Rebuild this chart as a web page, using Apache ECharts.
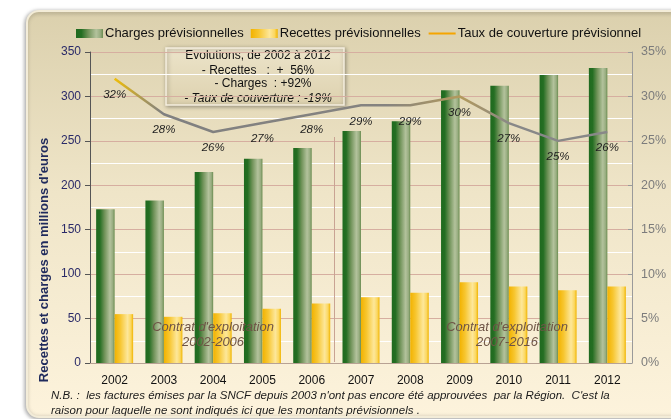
<!DOCTYPE html>
<html>
<head>
<meta charset="utf-8">
<script src="https://cdn.jsdelivr.net/npm/echarts@6/dist/echarts.min.js"></script>
<style>
  html, body { margin: 0; padding: 0; background: #ffffff; }
  #chart { width: 671px; height: 419px; }
</style>
</head>
<body>
<div id="chart"></div>
<script>
// Forecast figures for the regional rail operating contract, 2002-2012
const years = ['2002', '2003', '2004', '2005', '2006', '2007', '2008', '2009', '2010', '2011', '2012'];
const charges = [173, 183, 215, 230, 242, 261, 272, 307, 312, 324, 332];   // M€
const recettes = [55, 52, 56, 61, 67, 74, 79, 91, 86, 82, 86];             // M€
const taux = [32, 28, 26, 27, 28, 29, 29, 30, 27, 25, 26];                 // %

const leftTicks = { min: 0, max: 350, interval: 50 };
const rightTicks = { min: 0, max: 35, interval: 5 };

const FONT = 'Liberation Sans, Arial, sans-serif';
const G = echarts.graphic;

const chart = echarts.init(document.getElementById('chart'), null, { renderer: 'canvas' });

const greenFill = new G.LinearGradient(0, 0, 1, 0, [
  { offset: 0, color: '#1f6a1f' },
  { offset: 0.2, color: '#246e22' },
  { offset: 0.45, color: '#6f9258' },
  { offset: 0.75, color: '#b3c29c' },
  { offset: 0.9, color: '#98ad80' },
  { offset: 1, color: '#6a8c50' }
]);
const yellowFill = new G.LinearGradient(0, 0, 1, 0, [
  { offset: 0, color: '#f2b200' },
  { offset: 0.3, color: '#f7c630' },
  { offset: 0.7, color: '#fde79a' },
  { offset: 0.88, color: '#fbd760' },
  { offset: 1, color: '#f0b400' }
]);
const lineStroke = new G.LinearGradient(0, 0, 1, 0, [
  { offset: 0, color: '#f5c000' },
  { offset: 0.05, color: '#b8a048' },
  { offset: 0.1, color: '#808080' },
  { offset: 0.55, color: '#858380' },
  { offset: 0.7, color: '#b39a5c' },
  { offset: 0.8, color: '#888888' },
  { offset: 1, color: '#888888' }
]);

const option = {
  animation: false,
  textStyle: { fontFamily: FONT },
  graphic: [
    // beige rounded frame behind everything
    {
      type: 'rect', z: -10, silent: true,
      shape: { x: 27, y: 11, width: 680, height: 406, r: 12 },
      style: {
        fill: new G.LinearGradient(0, 0, 0, 1, [
          { offset: 0, color: '#dbd0ad' },
          { offset: 0.45, color: '#efe5c8' },
          { offset: 1, color: '#fdf3dc' }
        ]),
        stroke: '#f3ecd8', lineWidth: 2,
        shadowBlur: 4, shadowColor: 'rgba(0,0,0,0.35)', shadowOffsetX: -1, shadowOffsetY: 1
      }
    },
    // divider between the two operating contracts
    {
      type: 'line', z: 1, silent: true,
      shape: { x1: 334.5, y1: 137, x2: 334.5, y2: 362 },
      style: { stroke: '#c9a393', lineWidth: 1 }
    },
    {
      type: 'text', z: 20, silent: true,
      style: {
        x: 213, y: 335, text: "Contrat d'exploitation\n2002-2006",
        align: 'center', verticalAlign: 'middle', lineHeight: 15,
        font: 'italic 13px ' + FONT, fill: '#6e5446'
      }
    },
    {
      type: 'text', z: 20, silent: true,
      style: {
        x: 507, y: 335, text: "Contrat d'exploitation\n2007-2016",
        align: 'center', verticalAlign: 'middle', lineHeight: 15,
        font: 'italic 13px ' + FONT, fill: '#6e5446'
      }
    },
    // summary box
    {
      type: 'group', z: 30,
      children: [
        {
          type: 'rect', silent: true,
          shape: { x: 166, y: 48, width: 178, height: 57 },
          style: {
            fill: new G.LinearGradient(0, 0, 0, 1, [
              { offset: 0, color: '#ece4ca' },
              { offset: 1, color: '#ddd1ae' }
            ]),
            stroke: '#f6f0e0', lineWidth: 1.5,
            shadowBlur: 4, shadowColor: 'rgba(0,0,0,0.35)', shadowOffsetX: 1, shadowOffsetY: 1
          }
        },
        { type: 'text', silent: true, style: { x: 258, y: 56, text: 'Evolutions, de 2002 à 2012', align: 'center', verticalAlign: 'middle', font: '12px ' + FONT, fill: '#111' } },
        { type: 'text', silent: true, style: { x: 258, y: 71, text: '- Recettes   :  +  56%', align: 'center', verticalAlign: 'middle', font: '12px ' + FONT, fill: '#111' } },
        { type: 'text', silent: true, style: { x: 263, y: 84, text: '- Charges  : +92%', align: 'center', verticalAlign: 'middle', font: '12px ' + FONT, fill: '#111' } },
        { type: 'text', silent: true, style: { x: 258, y: 99, text: '- Taux de couverture : -19%', align: 'center', verticalAlign: 'middle', font: 'italic 12px ' + FONT, fill: '#111' } }
      ]
    },
    // left axis title
    {
      type: 'text', silent: true, z: 20,
      x: 44, y: 260, rotation: Math.PI / 2,
      style: {
        x: 0, y: 0, text: "Recettes et charges en millions d'euros",
        align: 'center', verticalAlign: 'middle',
        font: 'bold 13px ' + FONT, fill: '#1f2a5c'
      }
    },
    // footnote
    {
      type: 'text', silent: true, z: 20,
      style: {
        x: 51, y: 403,
        text: "N.B. :  les factures émises par la SNCF depuis 2003 n'ont pas encore été approuvées  par la Région.  C'est la\nraison pour laquelle ne sont indiqués ici que les montants prévisionnels .",
        align: 'left', verticalAlign: 'middle', lineHeight: 15,
        font: 'italic 11.5px ' + FONT, fill: '#1a1a1a'
      }
    }
  ],
  legend: {
    top: 22, left: 71,
    itemWidth: 27, itemHeight: 9, itemGap: 7,
    textStyle: { fontSize: 13, color: '#111', fontFamily: FONT, padding: [0, 0, 0, -3] },
    data: [
      { name: 'Charges prévisionnelles', icon: 'rect' },
      { name: 'Recettes prévisionnelles', icon: 'rect' },
      { name: 'Taux de couverture prévisionnel', itemStyle: { color: 'rgba(0,0,0,0)', borderWidth: 0 }, lineStyle: { color: '#f5a500', width: 2 } }
    ]
  },
  grid: { left: 90, right: 39, top: 52, bottom: 56 },
  xAxis: {
    type: 'category',
    data: years,
    axisLine: { lineStyle: { color: '#b8a294', width: 1 } },
    axisTick: { show: false },
    axisLabel: { color: '#111', fontSize: 12, margin: 12, fontFamily: FONT },
    splitLine: { show: false }
  },
  yAxis: [
    {
      type: 'value', position: 'left',
      min: leftTicks.min, max: leftTicks.max, interval: leftTicks.interval,
      axisLine: { show: true, lineStyle: { color: '#555', width: 1 } },
      axisTick: { show: true, length: 5, lineStyle: { color: '#555' } },
      axisLabel: { color: '#2a2a68', fontSize: 12, margin: 9, fontFamily: FONT },
      splitLine: { show: true, lineStyle: { color: '#d6aea0', width: 1 } },
      minorTick: { show: false, splitNumber: 2 },
      minorSplitLine: { show: true, lineStyle: { color: '#ffffff', width: 1 } }
    },
    {
      type: 'value', position: 'right',
      min: rightTicks.min, max: rightTicks.max, interval: rightTicks.interval,
      axisLine: { show: true, lineStyle: { color: '#9a9a9a', width: 1 } },
      axisTick: { show: true, inside: true, length: 4, lineStyle: { color: '#9a9a9a' } },
      axisLabel: { color: '#7c7c7c', fontSize: 12.5, margin: 9, formatter: '{value}%', fontFamily: FONT },
      splitLine: { show: false }
    }
  ],
  series: [
    {
      name: 'Charges prévisionnelles',
      type: 'bar', yAxisIndex: 0,
      data: charges,
      barWidth: 18.5, barGap: '0%',
      itemStyle: { color: greenFill }
    },
    {
      name: 'Recettes prévisionnelles',
      type: 'bar', yAxisIndex: 0,
      data: recettes,
      barWidth: 18.5, barGap: '0%',
      itemStyle: { color: yellowFill }
    },
    {
      name: 'Taux de couverture prévisionnel',
      type: 'line', yAxisIndex: 1, z: 5,
      data: taux,
      symbol: 'circle', symbolSize: 2, showSymbol: true,
      lineStyle: { width: 2.5, color: lineStroke },
      itemStyle: { color: 'rgba(0,0,0,0)', borderWidth: 0 },
      label: {
        show: true, position: 'bottom', distance: 9,
        formatter: p => p.value + '%',
        fontSize: 11.5, fontStyle: 'italic', color: '#1e1e1e', fontFamily: FONT
      },
      labelLayout: { hideOverlap: false }
    }
  ]
};

chart.setOption(option);
</script>
</body>
</html>
